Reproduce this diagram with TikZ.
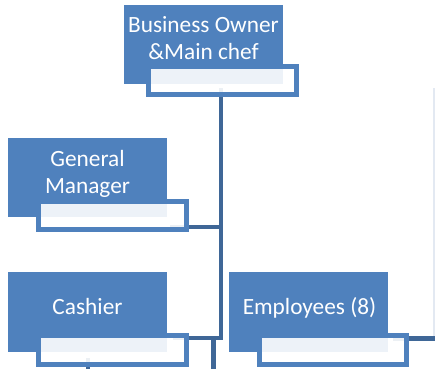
\documentclass[tikz,border=0pt]{standalone}
\usepackage{fontspec}
\setmainfont{Carlito}
\definecolor{boxblue}{HTML}{4F81BD}
\definecolor{connblue}{HTML}{3F6797}
\definecolor{faint}{HTML}{E3E9F2}
\begin{document}
\begin{tikzpicture}[x=1pt,y=-1pt,
  bluebox/.style={fill=boxblue, draw=none, inner sep=0pt, anchor=north west},
  whitebox/.style={draw=boxblue, line width=5pt, fill=white, fill opacity=0.9, draw opacity=1, inner sep=0pt},
  boxtext/.style={text=white, font=\fontsize{23.3pt}{26.5pt}\selectfont, align=center, anchor=base, inner sep=0pt},
  conn/.style={draw=connblue, line width=4.5pt},
  faintline/.style={draw=faint, line width=2.5pt}]
\useasboundingbox (0,0) rectangle (435,368);
% connector points
\coordinate (tTop) at (221,88);
\coordinate (tJ) at (221,338);
\coordinate (cashEnd) at (173,338);
\coordinate (gmJ) at (221,227);
\coordinate (gmEnd) at (170,227);
\coordinate (t2Top) at (213.5,338);
\coordinate (t2Bot) at (213.5,372);
\coordinate (empStart) at (393,338.5);
\coordinate (empCorner) at (434.5,338.5);
\coordinate (empUp) at (434.5,88);
\coordinate (cashDownTop) at (88,358);
\coordinate (cashDownBot) at (88,372);
% connectors
\draw[faintline] (empCorner) -- (empUp);
\draw[conn] (tTop) -- (tJ) -- (cashEnd);
\draw[conn] (gmJ) -- (gmEnd);
\draw[conn] (t2Top) -- (t2Bot);
\draw[conn] (empStart) -- (empCorner);
\draw[conn] (cashDownTop) -- (cashDownBot);
% blue boxes
\node[bluebox, minimum width=159pt, minimum height=79pt] (owner) at (124,5) {};
\node[bluebox, minimum width=159pt, minimum height=79pt] (gm) at (8,138) {};
\node[bluebox, minimum width=159pt, minimum height=80pt] (cash) at (8,272) {};
\node[bluebox, minimum width=159pt, minimum height=80pt] (emp) at (229,272) {};
% white boxes
\node[whitebox, minimum width=148pt, minimum height=28pt] (ownerW) at (222.5,80.5) {};
\node[whitebox, minimum width=148pt, minimum height=28pt] (gmW) at (112.5,215.5) {};
\node[whitebox, minimum width=148pt, minimum height=29pt] (cashW) at (112.5,350) {};
\node[whitebox, minimum width=147pt, minimum height=29pt] (empW) at (333,350) {};
% texts (base anchor = baseline of the last line)
\node[boxtext] (ownerT) at (203.5,59) {Business Owner\\\&Main chef};
\node[boxtext] (gmT) at (87.5,193) {General\\Manager};
\node[boxtext] (cashT) at (87.5,314) {Cashier};
\node[boxtext] (empT) at (309.5,314) {Employees (8)};
\end{tikzpicture}
\end{document}
